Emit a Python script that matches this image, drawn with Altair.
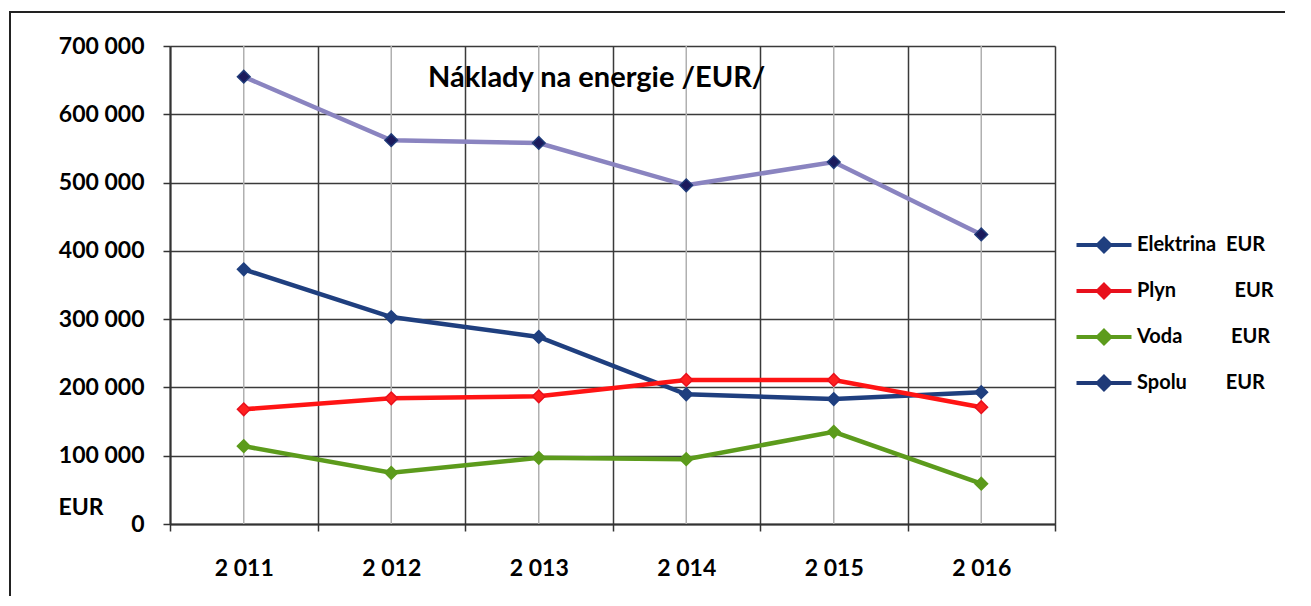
import altair as alt
import pandas as pd

years = [2011, 2012, 2013, 2014, 2015, 2016]
series = ["Elektrina", "Plyn", "Voda", "Spolu"]
legend_labels = ["Elektrina\u00a0\u00a0EUR",
                 "Plyn" + "\u00a0" * 12 + "EUR",
                 "Voda" + "\u00a0" * 10 + "EUR",
                 "Spolu" + "\u00a0" * 8 + "EUR"]
elektrina = [373000, 303000, 274000, 190000, 183000, 193000]
plyn = [168000, 184000, 187000, 211000, 211000, 171000]
voda = [114000, 75000, 97000, 95000, 135000, 59000]
spolu = [655000, 562000, 558000, 496000, 530000, 424000]
title_text = "Náklady na energie /EUR/"
y_ticks = [0, 100000, 200000, 300000, 400000, 500000, 600000, 700000]

line_colors = ["#1f3f7f", "#ff1414", "#5c9b1c", "#8a84c0"]
marker_fill = ["#1f3f7f", "#ff2020", "#5c9b1c", "#1b1a5c"]
marker_stroke = ["#1f3f7f", "#e8101c", "#5c9b1c", "#1f3a78"]

rows = []
for name, vals in zip(series, [elektrina, plyn, voda, spolu]):
    for y, v in zip(years, vals):
        rows.append({"year": y, "series": name, "value": v})
df = pd.DataFrame(rows)

FONT = "Lato"
W, H = 885, 478

label_map = "{" + ",".join(f"'{s}':'{l}'" for s, l in zip(series, legend_labels)) + "}"
num_expr = "isValid(datum.value) ? replace(format(datum.value, ',d'), /,/g, ' ') : ''"

x_enc = alt.X("year:O",
              scale=alt.Scale(type="band", paddingInner=0, paddingOuter=0),
              axis=alt.Axis(title=None, labelAngle=0, labelAlign="center", tickBand="extent",
                            labelExpr=num_expr,
                            labelFont=FONT, labelFontSize=23, labelFontWeight="bold",
                            labelColor="black", labelBaseline="middle", labelPadding=37,
                            tickSize=7, tickColor="#333", tickWidth=1.5,
                            domainColor="#333", domainWidth=2,
                            grid=True, gridColor="#3a3a3a", gridWidth=1.5))
y_enc = alt.Y("value:Q",
              scale=alt.Scale(domain=[0, 700000], nice=False),
              axis=alt.Axis(values=y_ticks, title="EUR", titleAngle=0,
                            titleX=-112, titleY=461, titleAlign="left",
                            titleBaseline="middle", titleFont=FONT, titleFontSize=23,
                            titleFontWeight="bold", titleColor="black",
                            labelExpr=num_expr,
                            labelFont=FONT, labelFontSize=23, labelFontWeight="bold",
                            labelColor="black", labelPadding=19,
                            tickSize=7, tickColor="#333", tickWidth=1.5,
                            domainColor="#333", domainWidth=2,
                            grid=True, gridColor="#3a3a3a", gridWidth=1.5))

legend = alt.Legend(title=None, orient="none", legendX=918, legendY=183,
                    symbolType="M-2,0H2M0,-0.45L0.45,0L0,0.45L-0.45,0ZM0,-0.2L0.2,0L0,0.2L-0.2,0Z",
                    symbolSize=756, symbolStrokeWidth=4, symbolOpacity=1,
                    labelExpr=label_map + "[datum.label]",
                    labelFont=FONT, labelFontSize=20, labelFontWeight="bold",
                    labelColor="black", labelOffset=17, rowPadding=15, padding=0,
                    labelLimit=400)

centers = alt.Chart(pd.DataFrame({"year": years})).mark_rule(
    color="#b0b0b0", strokeWidth=1.5).encode(
    x=alt.X("year:O"), y=alt.datum(0), y2=alt.datum(700000))

lines = alt.Chart(df).mark_line(strokeWidth=4.5).encode(
    x=x_enc, y=y_enc,
    stroke=alt.Stroke("series:N", scale=alt.Scale(domain=series, range=line_colors),
                      legend=None))

points = alt.Chart(df).mark_point(shape="diamond", filled=True, size=160,
                                  strokeWidth=1.5, opacity=1).encode(
    x="year:O", y="value:Q",
    fill=alt.Fill("series:N", scale=alt.Scale(domain=series, range=marker_fill),
                  legend=None),
    stroke=alt.Stroke("series:N", scale=alt.Scale(domain=series, range=marker_stroke),
                      legend=legend))

one = pd.DataFrame({"t": [title_text]})
title = alt.Chart(one).mark_text(font=FONT, fontSize=29, fontWeight="bold",
                                 color="black", align="left", baseline="middle").encode(
    text="t:N", x=alt.value(258), y=alt.value(32))

frame_left = alt.Chart(one).mark_rule(color="#222", strokeWidth=2).encode(
    x=alt.value(-160), y=alt.value(-34), y2=alt.value(560))
frame_top = alt.Chart(one).mark_rule(color="#222", strokeWidth=2).encode(
    x=alt.value(-161), x2=alt.value(1200), y=alt.value(-34))

chart = alt.layer(centers, lines, points, title, frame_left, frame_top).resolve_scale(
    stroke="independent"
).properties(
    width=W, height=H,
    autosize=alt.AutoSizeParams(type="none"),
    padding={"left": 162, "top": 38, "right": 230, "bottom": 72},
).configure_view(stroke="#333", strokeWidth=2).configure(background="white")

chart.save("out.html", embed_options={"renderer": "svg", "actions": False})
